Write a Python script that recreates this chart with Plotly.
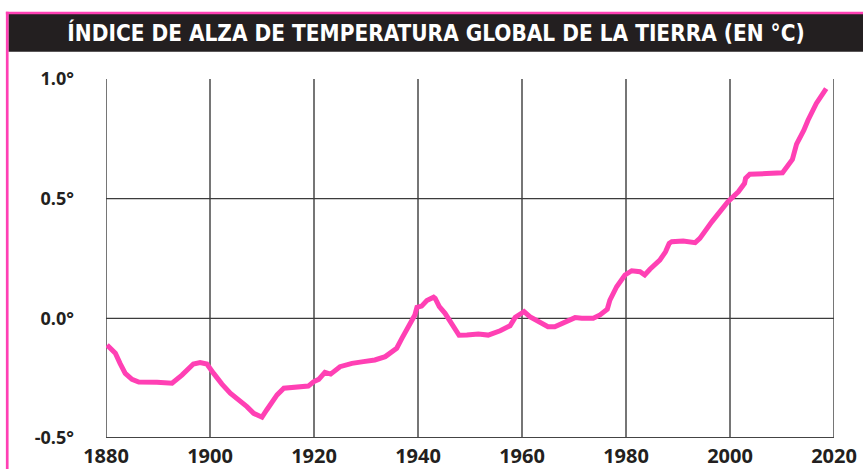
import plotly.graph_objects as go

# ---- data ----
years = [1880.2, 1881.8, 1882.7, 1883.7, 1885.0, 1886.3, 1889.8, 1892.7, 1894.6, 1896.8,
         1898.1, 1899.4, 1900.7, 1902.0, 1902.3, 1903.9, 1905.8, 1907.1, 1908.4, 1910.0,
         1910.9, 1912.9, 1914.2, 1917.3, 1918.9, 1919.9, 1920.9, 1922.1, 1923.2, 1925.0,
         1927.3, 1929.5, 1931.7, 1933.7, 1935.9, 1936.9, 1938.1, 1939.4, 1939.8, 1940.7,
         1941.7, 1943.0, 1943.3, 1944.1, 1945.2, 1946.8, 1947.9, 1949.4, 1951.6, 1953.5,
         1955.8, 1957.7, 1958.7, 1959.6, 1960.4, 1961.5, 1963.1, 1965.0, 1966.3, 1968.3,
         1970.2, 1971.5, 1973.7, 1975.0, 1976.4, 1976.9, 1978.2, 1979.8, 1981.1, 1982.7,
         1983.6, 1984.6, 1985.6, 1986.5, 1987.6, 1988.3, 1988.8, 1991.0, 1993.3, 1994.2,
         1996.5, 1999.6, 2001.6, 2002.8, 2003.0, 2003.8, 2007.0, 2010.1, 2012.0, 2012.8,
         2014.2, 2015.0, 2016.6, 2018.5]
anomaly = [-0.111, -0.146, -0.188, -0.230, -0.255, -0.266, -0.267, -0.271, -0.237, -0.191,
           -0.185, -0.191, -0.230, -0.269, -0.275, -0.313, -0.344, -0.369, -0.397, -0.413,
           -0.383, -0.320, -0.292, -0.286, -0.283, -0.265, -0.255, -0.226, -0.233, -0.202,
           -0.188, -0.181, -0.174, -0.160, -0.125, -0.084, -0.035, 0.014, 0.046, 0.051,
           0.074, 0.088, 0.083, 0.049, 0.021, -0.035, -0.071, -0.070, -0.066, -0.070,
           -0.052, -0.031, 0.004, 0.017, 0.028, 0.007, -0.011, -0.035, -0.035, -0.018,
           0.003, 0.000, 0.000, 0.014, 0.038, 0.076, 0.132, 0.181, 0.199, 0.195,
           0.181, 0.205, 0.227, 0.243, 0.278, 0.313, 0.320, 0.323, 0.316, 0.334,
           0.403, 0.487, 0.529, 0.564, 0.585, 0.602, 0.605, 0.608, 0.664, 0.728,
           0.786, 0.828, 0.898, 0.960]

x_ticks = [1880, 1900, 1920, 1940, 1960, 1980, 2000, 2020]
x_tick_labels = ["1880", "1900", "1920", "1940", "1960", "1980", "2000", "2020"]
y_ticks = [-0.5, 0.0, 0.5, 1.0]
y_tick_labels = ["-0.5°", "0.0°", "0.5°", "1.0°"]
y_grid = [0.0, 0.5]
title_text = "ÍNDICE DE ALZA DE TEMPERATURA GLOBAL DE LA TIERRA (EN °C)"

# ---- layout constants (page pixels) ----
W, H = 863, 469
ML, MR, MT, MB = 105.7, 863 - 834.3, 79.3, 469 - 438.3
PW, PH = W - ML - MR, H - MT - MB
PINK = "#ff40b4"
DARK = "#231f20"
GRID = "#3c3c3c"


def px_x(px):
    return (px - ML) / PW


def px_y(py):
    return (H - MB - py) / PH


fig = go.Figure()
fig.add_trace(go.Scatter(
    x=years, y=anomaly, mode="lines",
    line=dict(color=PINK, width=5),
    hoverinfo="skip", showlegend=False,
))

shapes = []
for xv in x_ticks:
    shapes.append(dict(type="line", xref="x", yref="y", x0=xv, x1=xv,
                       y0=y_ticks[0], y1=y_ticks[-1],
                       line=dict(color=GRID, width=1.4), layer="below"))
for yv in y_grid:
    shapes.append(dict(type="line", xref="x", yref="y", x0=x_ticks[0], x1=x_ticks[-1],
                       y0=yv, y1=yv, line=dict(color=GRID, width=1.4), layer="below"))
shapes.append(dict(type="line", xref="x", yref="y", x0=x_ticks[0], x1=x_ticks[-1],
                   y0=y_ticks[0], y1=y_ticks[0], line=dict(color="#444444", width=2.2),
                   layer="below"))
# title bar
shapes.append(dict(type="rect", xref="paper", yref="paper",
                   x0=px_x(8), x1=px_x(W + 2), y0=px_y(52), y1=px_y(14),
                   fillcolor=DARK, line=dict(width=0), layer="below"))
# pink frame: top and left
shapes.append(dict(type="rect", xref="paper", yref="paper",
                   x0=px_x(5.5), x1=px_x(W + 2), y0=px_y(14.5), y1=px_y(12),
                   fillcolor=PINK, line=dict(width=0), layer="below"))
shapes.append(dict(type="rect", xref="paper", yref="paper",
                   x0=px_x(5.5), x1=px_x(8.2), y0=px_y(H + 2), y1=px_y(12),
                   fillcolor=PINK, line=dict(width=0), layer="below"))

fig.update_layout(
    width=W, height=H,
    margin=dict(l=ML, r=MR, t=MT, b=MB, pad=0, autoexpand=False),
    paper_bgcolor="white", plot_bgcolor="white",
    shapes=shapes,
    title=dict(
        text=title_text, automargin=False,
        x=436 / W, xref="container", xanchor="center",
        y=1 - 33.5 / H, yref="container", yanchor="middle",
        font=dict(family="DejaVu Sans Condensed, Liberation Sans Narrow, Arial Narrow, sans-serif",
                  size=22.4, color="white", weight="bold"),
    ),
    xaxis=dict(
        range=[x_ticks[0], x_ticks[-1]], automargin=False,
        tickvals=x_ticks, ticktext=x_tick_labels,
        showgrid=False, zeroline=False, showline=False,
        ticks="", ticklabelstandoff=4, ticklabeloverflow="allow",
        tickfont=dict(family="Open Sans, Lato, sans-serif", size=20, color=DARK, weight="bold"),
        fixedrange=True,
    ),
    yaxis=dict(
        range=[y_ticks[0], y_ticks[-1]], automargin=False,
        tickvals=y_ticks, ticktext=y_tick_labels,
        showgrid=False, zeroline=False, showline=False,
        ticks="", ticklabelstandoff=31, ticklabeloverflow="allow",
        tickfont=dict(family="Open Sans, Lato, sans-serif", size=18, color=DARK, weight="bold"),
        fixedrange=True,
    ),
)

fig.write_html(
    "out.html",
    config={"displayModeBar": False},
    post_script="document.body.style.margin='0';document.body.style.overflow='hidden';",
)
